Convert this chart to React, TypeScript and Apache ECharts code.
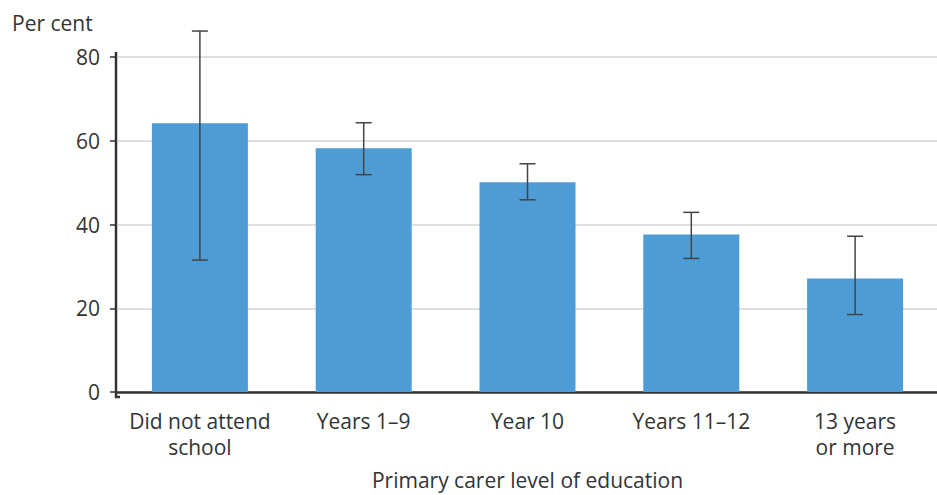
import React, { useEffect, useRef } from "react";
import * as echarts from "echarts";

const categories = ["Did not attend\nschool", "Years 1–9", "Year 10", "Years 11–12", "13 years\nor more"];
const values = [64.2, 58.2, 50.1, 37.6, 27.1];
const upper = [86.2, 64.3, 54.5, 42.9, 37.2];
const lower = [31.5, 51.9, 45.9, 31.9, 18.5];
const yTicks = [0, 20, 40, 60, 80];

const FONT = "Open Sans";
const TEXT = "#333333";
const FS = 21;

export default function App() {
  const ref = useRef<HTMLDivElement>(null);
  useEffect(() => {
    if (!ref.current) return;
    const chart = echarts.init(ref.current, undefined, { renderer: "svg" });
    const errData = categories.map((_, i) => [i, lower[i], upper[i]]);
    chart.setOption({
      animation: false,
      textStyle: { fontFamily: FONT },
      grid: { left: 118, top: 57, right: -10, height: 340, containLabel: false },
      graphic: [
        {
          type: "text",
          left: 12,
          top: 12,
          style: { text: "Per cent", font: `${FS}px '${FONT}'`, fill: TEXT },
        },
        {
          type: "line",
          shape: { x1: 116, y1: 52, x2: 116, y2: 398 },
          style: { stroke: "#333333", lineWidth: 2.5 },
          z: 10,
        },
        {
          type: "line",
          shape: { x1: 115, y1: 397, x2: 120, y2: 397 },
          style: { stroke: "#333333", lineWidth: 2.5 },
          z: 10,
        },
      ],
      xAxis: {
        type: "category",
        data: categories,
        axisLine: { show: true, lineStyle: { color: "#333333", width: 2.5 } },
        axisTick: { show: false },
        axisLabel: {
          interval: 0,
          color: TEXT,
          fontSize: FS,
          fontFamily: FONT,
          lineHeight: 26,
          margin: 16,
        },
        name: "Primary carer level of education",
        nameLocation: "middle",
        nameGap: 77,
        nameTextStyle: { color: TEXT, fontSize: FS, fontFamily: FONT },
      },
      yAxis: {
        type: "value",
        min: 0,
        max: 80,
        interval: 20,
        offset: 2,
        axisLine: { show: false },
        axisTick: { show: true, length: 6, lineStyle: { color: "#333333", width: 1.5 } },
        axisLabel: { color: TEXT, fontSize: FS, fontFamily: FONT, margin: 16,
          formatter: (v: number) => (yTicks.includes(v) ? String(v) : "") },
        splitLine: { show: true, lineStyle: { color: "#d3d3db", width: 1.5 } },
      },
      series: [
        {
          type: "bar",
          data: values,
          barWidth: 96,
          itemStyle: { color: "#4e9cd6" },
        },
        {
          type: "custom",
          data: errData,
          z: 5,
          renderItem: (params: any, api: any) => {
            const x = api.value(0);
            const lo = api.coord([x, api.value(1)]);
            const hi = api.coord([x, api.value(2)]);
            const cap = 8;
            const style = { stroke: "#444444", lineWidth: 1.5 };
            return {
              type: "group",
              children: [
                { type: "line", shape: { x1: lo[0], y1: lo[1], x2: hi[0], y2: hi[1] }, style },
                { type: "line", shape: { x1: hi[0] - cap, y1: hi[1], x2: hi[0] + cap, y2: hi[1] }, style },
                { type: "line", shape: { x1: lo[0] - cap, y1: lo[1], x2: lo[0] + cap, y2: lo[1] }, style },
              ],
            };
          },
        },
      ],
    });
    return () => chart.dispose();
  }, []);
  return (
    <div style={{ position: "fixed", left: 0, top: 0, width: 937, height: 495, overflow: "hidden", background: "#ffffff" }}>
      <div ref={ref} style={{ width: 937, height: 495 }} />
    </div>
  );
}
